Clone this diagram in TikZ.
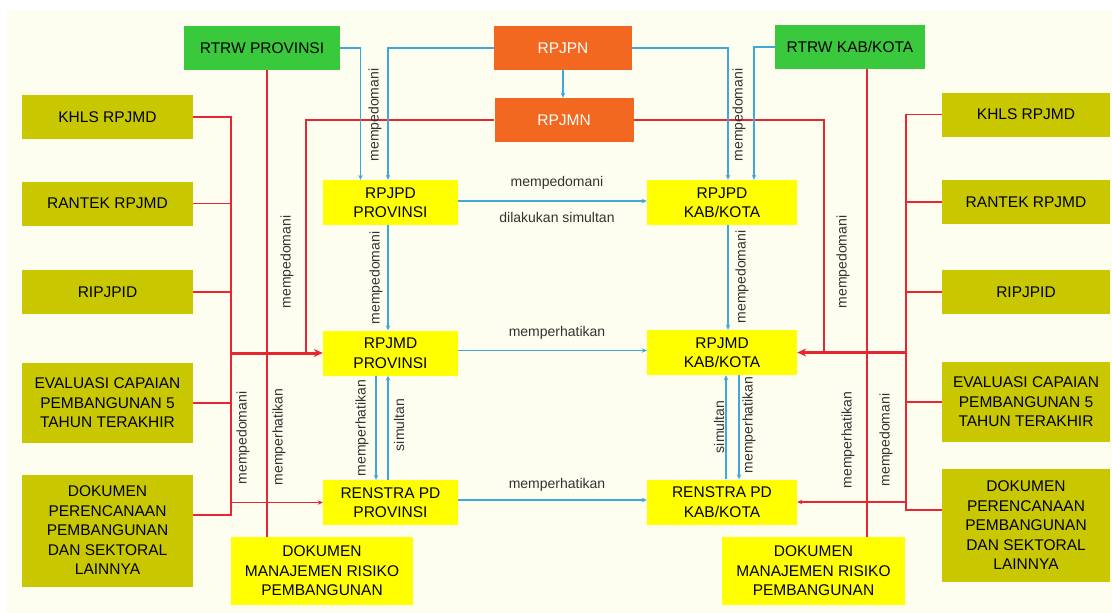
\documentclass[tikz,border=0pt]{standalone}
\usepackage{fontspec}
\setmainfont{Liberation Sans}
\usetikzlibrary{arrows.meta}

\definecolor{cream}{RGB}{254,254,240}
\definecolor{grn}{RGB}{58,200,60}
\definecolor{orng}{RGB}{243,104,32}
\definecolor{olive}{RGB}{201,200,0}
\definecolor{yel}{RGB}{255,255,0}
\definecolor{blu}{RGB}{62,168,220}
\definecolor{rd}{RGB}{232,38,50}

\begin{document}
\begin{tikzpicture}[x=1pt, y=-1pt,
	box/.style={inner sep=0pt, align=center, font=\fontsize{15.5}{19.5}\selectfont},
	greenbox/.style={box, fill=grn, minimum height=44pt},
	orangebox/.style={box, fill=orng, text=white, minimum height=44pt},
	olivebox/.style={box, fill=olive, minimum width=171pt, minimum height=44pt},
	yellowbox/.style={box, fill=yel, minimum width=135pt, minimum height=45pt},
	lbl/.style={inner sep=1pt, text=black!80, font=\fontsize{14}{14}\selectfont},
	vlbl/.style={lbl, rotate=90},
	bluearrow/.style={blu, line width=1.6pt, -{Stealth[length=5pt, width=4.5pt]}},
	redline/.style={rd, line width=1.5pt},
	redarrow/.style={rd, line width=3pt, -{Stealth[length=9pt, width=8pt]}},
	redsmall/.style={rd, line width=1.5pt, -{Stealth[length=5pt, width=4.5pt]}}]

	\useasboundingbox (0,0) rectangle (1112,613);
	\fill[white] (0,0) rectangle (1112,613);
	\fill[cream] (7,10) rectangle (1112,613);

	\node[greenbox, minimum width=156pt] (rtrwprov) at (262,48) {RTRW PROVINSI};
	\node[orangebox, minimum width=138pt] (rpjpn) at (563,48) {RPJPN};
	\node[orangebox, minimum width=139pt] (rpjmn) at (564,120) {RPJMN};
	\node[greenbox, minimum width=150pt] (rtrwkab) at (850,47) {RTRW KAB/KOTA};

	\node[olivebox] (khlsL) at (107.5,117) {KHLS RPJMD};
	\node[olivebox] (rantekL) at (107.5,203.5) {RANTEK RPJMD};
	\node[olivebox] (ripjpidL) at (107.5,292) {RIPJPID};
	\node[olivebox, minimum height=80pt] (evalL) at (107.5,403) {EVALUASI CAPAIAN\\PEMBANGUNAN 5\\TAHUN TERAKHIR};
	\node[olivebox, minimum height=112pt] (dokL) at (107.5,530.5) {DOKUMEN\\PERENCANAAN\\PEMBANGUNAN\\DAN SEKTORAL\\LAINNYA};

	\node[olivebox, minimum width=168pt] (khlsR) at (1026,114.5) {KHLS RPJMD};
	\node[olivebox, minimum width=168pt] (rantekR) at (1026,202) {RANTEK RPJMD};
	\node[olivebox, minimum width=168pt] (ripjpidR) at (1026,292) {RIPJPID};
	\node[olivebox, minimum width=168pt, minimum height=80pt] (evalR) at (1026,402) {EVALUASI CAPAIAN\\PEMBANGUNAN 5\\TAHUN TERAKHIR};
	\node[olivebox, minimum width=168pt, minimum height=113pt] (dokR) at (1026,525.5) {DOKUMEN\\PERENCANAAN\\PEMBANGUNAN\\DAN SEKTORAL\\LAINNYA};

	\node[yellowbox] (rpjpdprov) at (390.5,202.5) {RPJPD\\PROVINSI};
	\node[yellowbox, minimum width=150pt] (rpjpdkab) at (722,202.5) {RPJPD\\KAB/KOTA};
	\node[yellowbox] (rpjmdprov) at (390.5,353) {RPJMD\\PROVINSI};
	\node[yellowbox, minimum width=150pt] (rpjmdkab) at (722,352.5) {RPJMD\\KAB/KOTA};
	\node[yellowbox] (renstraprov) at (390.5,502.5) {RENSTRA PD\\PROVINSI};
	\node[yellowbox, minimum width=150pt] (renstrakab) at (722,502) {RENSTRA PD\\KAB/KOTA};
	\node[yellowbox, minimum width=182pt, minimum height=68pt] (dokmanprov) at (322,571) {DOKUMEN\\MANAJEMEN RISIKO\\PEMBANGUNAN};
	\node[yellowbox, minimum width=183pt, minimum height=68pt] (dokmankab) at (813.5,571) {DOKUMEN\\MANAJEMEN RISIKO\\PEMBANGUNAN};

	\coordinate (busL) at (231,515);
	\coordinate (busR) at (906,510);

	\draw[redline] (khlsL.east) -| (busL) -- (busL -| dokL.east);
	\foreach \b in {rantekL, ripjpidL, evalL}
		\draw[redline] (\b.east) -- (\b.east -| busL);
	\draw[redline] (rpjmn.west) -| ([xshift=-17pt]rpjmdprov.west);
	\draw[redline] ([xshift=5pt]rtrwprov.south) -- ([xshift=5pt]rtrwprov.south |- dokmanprov.north);
	\draw[redarrow] (rpjmdprov.west -| busL) -- (rpjmdprov.west);
	\draw[redsmall] (renstraprov.west -| busL) -- (renstraprov.west);

	\draw[redline] (khlsR.west) -| (busR) -- (busR -| dokR.west);
	\foreach \b in {rantekR, ripjpidR, evalR}
		\draw[redline] (\b.west) -- (\b.west -| busR);
	\draw[redline] (rpjmn.east) -| ([xshift=27pt]rpjmdkab.east);
	\draw[redline] ([xshift=17pt]rtrwkab.south) -- ([xshift=17pt]rtrwkab.south |- dokmankab.north);
	\draw[redarrow] (rpjmdkab.east -| busR) -- (rpjmdkab.east);
	\draw[redsmall] (renstrakab.east -| busR) -- (renstrakab.east);

	\draw[bluearrow] (rtrwprov.east) -| ([xshift=-30pt]rpjpdprov.north);
	\draw[bluearrow] (rpjpn.west) -| ([xshift=-2.5pt]rpjpdprov.north);
	\draw[bluearrow] (rpjpn.east) -| ([xshift=6pt]rpjpdkab.north);
	\draw[bluearrow] (rtrwkab.west) -| ([xshift=32pt]rpjpdkab.north);
	\draw[bluearrow] (rpjpn.south) -- (rpjpn.south |- rpjmn.north);
	\draw[bluearrow] ([yshift=1.5pt]rpjpdprov.east) -- ([yshift=1.5pt]rpjpdprov.east -| rpjpdkab.west);
	\draw[bluearrow] ([xshift=-2.5pt]rpjpdprov.south) -- ([xshift=-2.5pt]rpjpdprov.south |- rpjmdprov.north);
	\draw[bluearrow] ([xshift=6pt]rpjpdkab.south) -- ([xshift=6pt]rpjpdkab.south |- rpjmdkab.north);
	\draw[bluearrow] ([yshift=2.5pt]rpjmdprov.east) -- ([yshift=2.5pt]rpjmdprov.east -| rpjmdkab.west);
	\draw[bluearrow] ([xshift=-14.5pt]rpjmdprov.south) -- ([xshift=-14.5pt]rpjmdprov.south |- renstraprov.north);
	\draw[bluearrow] ([xshift=-2.5pt]renstraprov.north) -- ([xshift=-2.5pt]renstraprov.north |- rpjmdprov.south);
	\draw[bluearrow] ([xshift=4pt]renstrakab.north) -- ([xshift=4pt]renstrakab.north |- rpjmdkab.south);
	\draw[bluearrow] ([xshift=17pt]rpjmdkab.south) -- ([xshift=17pt]rpjmdkab.south |- renstrakab.north);
	\draw[bluearrow] ([yshift=2.5pt]renstraprov.east) -- ([yshift=2.5pt]renstraprov.east -| renstrakab.west);

	\node[lbl] (lpjpd) at (557,183) {mempedomani};
	\node[lbl] (lsimul) at (557,217) {dilakukan simultan};
	\node[lbl] (lpjmd) at (557,333) {memperhatikan};
	\node[lbl] (lrenstra) at (557,485) {memperhatikan};

	\node[vlbl] (lrtrwprov) at (375,115) {mempedomani};
	\node[vlbl] (lrtrwkab) at (739,115) {mempedomani};
	\node[vlbl] (lprovdown) at (376,278) {mempedomani};
	\node[vlbl] (lkabdown) at (742,277) {mempedomani};
	\node[vlbl] (lprovA) at (362,428) {memperhatikan};
	\node[vlbl] (lprovB) at (399,425) {simultan};
	\node[vlbl] (lkabA) at (719,427) {simultan};
	\node[vlbl] (lkabB) at (749,425) {memperhatikan};
	\node[vlbl] (lrpjmnL) at (287,262) {mempedomani};
	\node[vlbl] (lrpjmnR) at (843,262) {mempedomani};
	\node[vlbl] (lbusL) at (243,438) {mempedomani};
	\node[vlbl] (ldokmanL) at (279,437) {memperhatikan};
	\node[vlbl] (ldokmanR) at (848,440) {memperhatikan};
	\node[vlbl] (lbusR) at (886,440) {mempedomani};

\end{tikzpicture}
\end{document}
